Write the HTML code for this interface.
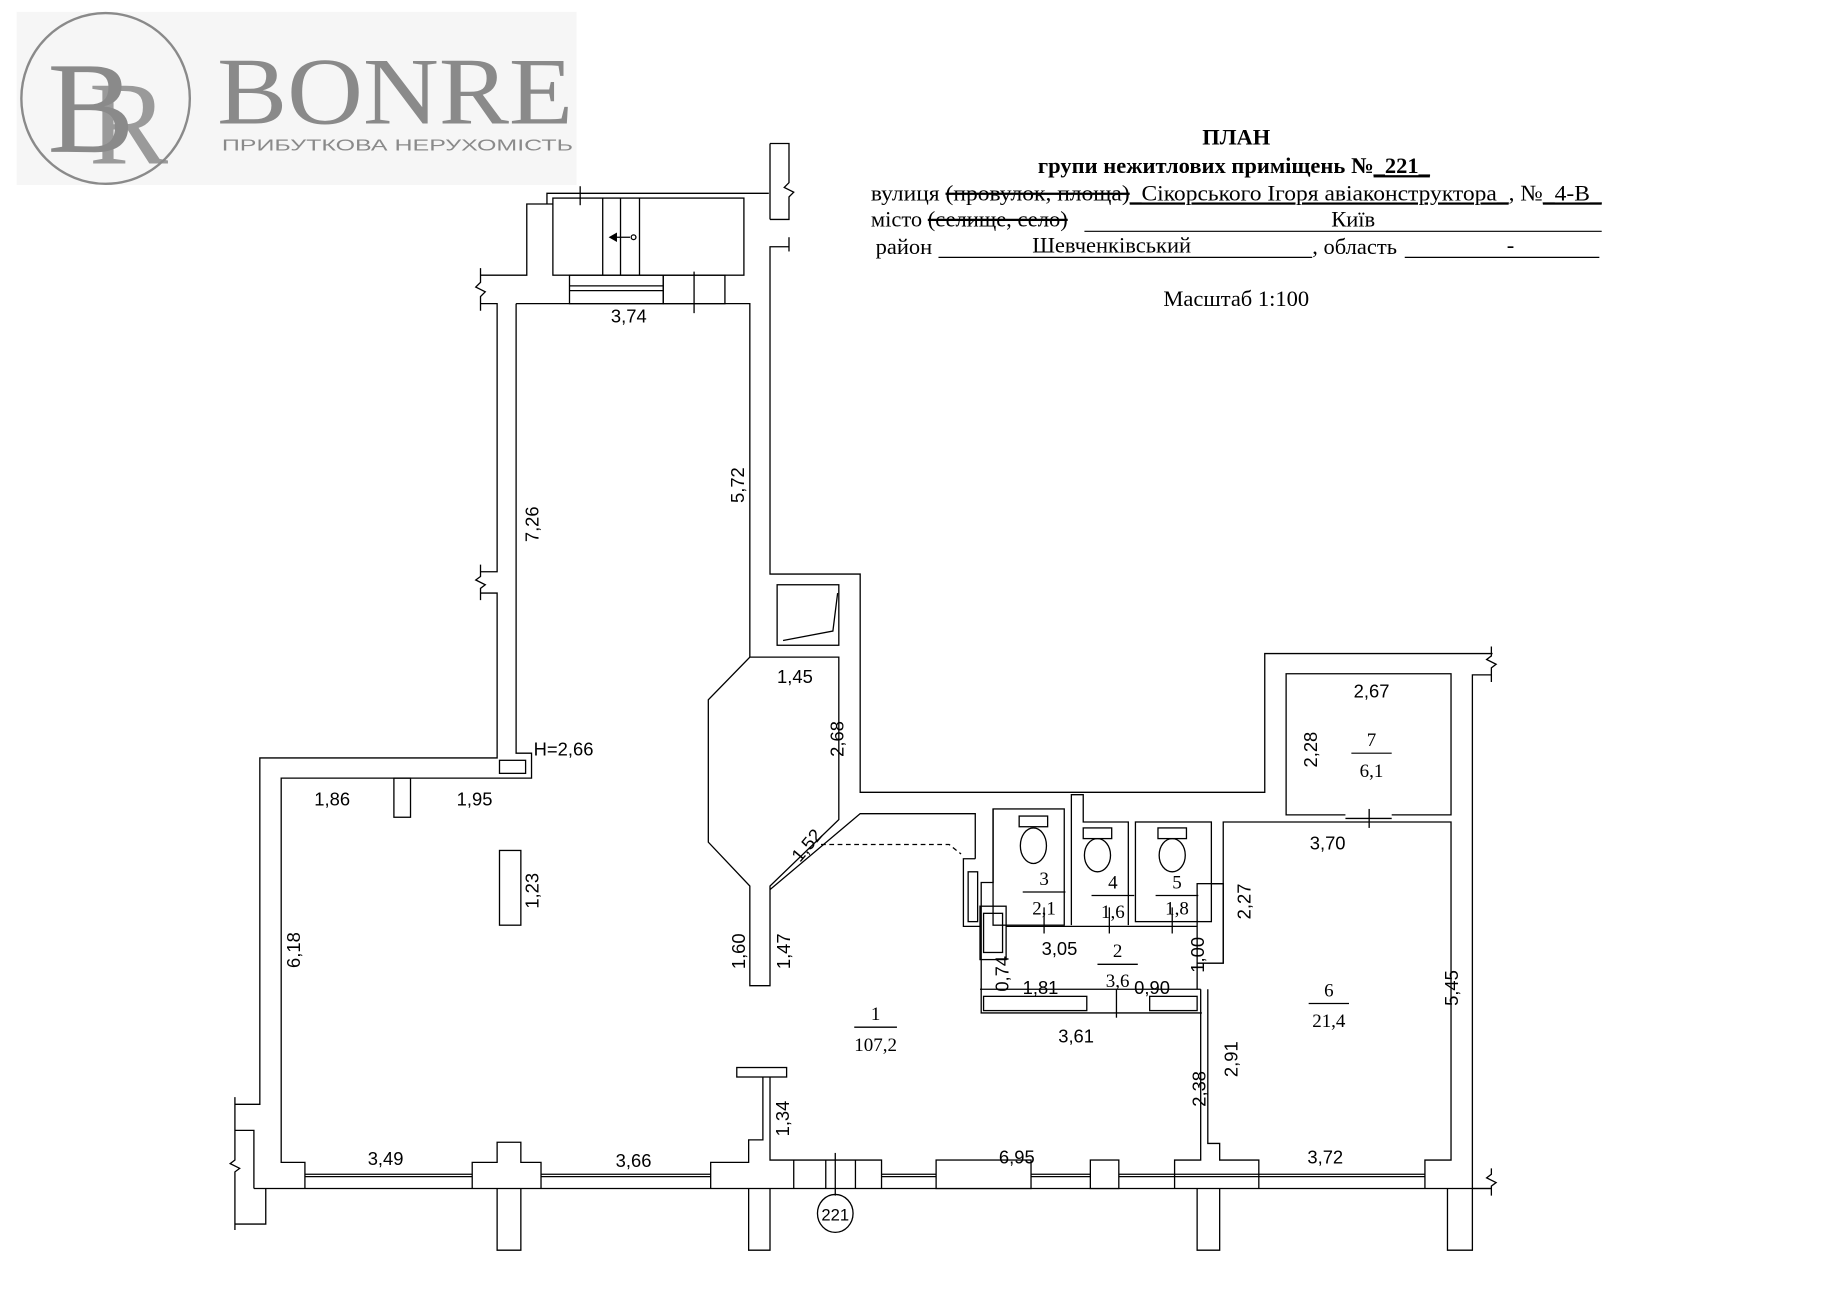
<!DOCTYPE html>
<html><head><meta charset="utf-8"><style>
html,body{margin:0;padding:0;background:#fff}
svg{display:block}
.w{fill:none;stroke:#000;stroke-width:1.1}
.d{font-family:"Liberation Sans",sans-serif;font-size:15.5px;fill:#000}
.s{font-family:"Liberation Serif",serif;font-size:16px;fill:#000}
.t{font-family:"Liberation Serif","Noto Serif CJK SC",serif;font-size:19px;fill:#000}
</style></head><body>
<svg width="1839" height="1300" viewBox="0 0 1550 1096" preserveAspectRatio="none" xmlns="http://www.w3.org/2000/svg">
<rect x="14" y="10" width="472" height="146" fill="#f6f6f6"/>
<ellipse cx="89" cy="83" rx="71" ry="72" fill="none" stroke="#8a8a8a" stroke-width="2"/>
<text x="40" y="128" font-family="Liberation Serif,serif" font-size="110" fill="#8a8a8a">B</text>
<text x="75" y="138" font-family="Liberation Serif,serif" font-size="100" fill="#8a8a8a" opacity="0.85">R</text>
<text x="183" y="104" font-family="Liberation Serif,serif" font-size="80" fill="#8a8a8a" textLength="300" lengthAdjust="spacingAndGlyphs">BONRE</text>
<text x="187" y="127" font-family="Liberation Sans,sans-serif" font-size="13" fill="#8a8a8a" textLength="296" lengthAdjust="spacingAndGlyphs">ПРИБУТКОВА НЕРУХОМІСТЬ</text>

<text x="1042" y="122" text-anchor="middle" class="t" font-weight="bold" font-size="20">ПЛАН</text>
<text x="1040" y="146" text-anchor="middle" class="t" font-weight="bold" font-size="20">групи нежитлових приміщень №<tspan text-decoration="underline">_221_</tspan></text>
<text x="734" y="169" class="t" textLength="616" lengthAdjust="spacingAndGlyphs">вулиця <tspan text-decoration="line-through">(провулок, площа)</tspan><tspan text-decoration="underline">_Сікорського Ігоря авіаконструктора_</tspan>, №<tspan text-decoration="underline">_4-В_</tspan></text>
<text x="734" y="191" class="t">місто <tspan text-decoration="line-through">(селище, село)</tspan></text>
<line x1="914" y1="195" x2="1350" y2="195" stroke="#000"/>
<text x="1122" y="191" class="t">Київ</text>
<text x="738" y="214" class="t">район</text>
<line x1="791" y1="217" x2="1106" y2="217" stroke="#000"/>
<text x="870" y="213" class="t">Шевченківський</text>
<text x="1106" y="214" class="t">, область</text>
<line x1="1184" y1="217" x2="1348" y2="217" stroke="#000"/>
<text x="1270" y="213" class="t">-</text>
<text x="1042" y="258" text-anchor="middle" class="t" font-size="18">Масштаб 1:100</text>

<g class="w">
<polyline points="405,232 444,232 444,172 466,172"/>
<polyline points="461,172 461,163 648,163"/>
<rect x="466" y="167" width="161" height="65"/>
<line x1="508" y1="167" x2="508" y2="232"/><line x1="523" y1="167" x2="523" y2="232"/><line x1="539" y1="167" x2="539" y2="232"/>
<line x1="489" y1="157" x2="489" y2="173"/>
<rect x="480" y="232" width="79" height="24"/><line x1="480" y1="241" x2="559" y2="241"/><line x1="480" y1="245" x2="559" y2="245"/>
<rect x="559" y="232" width="52" height="24"/><line x1="585" y1="229" x2="585" y2="264"/>
<polyline points="405,256 419,256 419,482 405,482"/>
<polyline points="405,500 419,500 419,639 219,639 219,931 198,931"/>
<polyline points="405,226 405,238 401,242 409,246 405,250 405,262"/>
<polyline points="405,476 405,486 401,489 409,493 405,496 405,506"/>
<polyline points="435,256 632,256 632,554"/>
<polyline points="435,256 435,635 448,635 448,656 237,656 237,980 257,980 257,1002"/>
<rect x="421" y="641" width="22" height="11"/>
<polyline points="649,121 665,121 665,154 661,158 669,162 665,166 665,185 649,185"/>
<line x1="649" y1="121" x2="649" y2="185"/>
<polyline points="665,208 649,208 649,484 725,484 725,668 1066,668 1066,551 1258,551"/>
<line x1="665" y1="200" x2="665" y2="212"/>
<rect x="655" y="493" width="52" height="51"/>
<polyline points="660,540 702,532 706,500"/>
<polygon points="632,554 707,554 707,691 649,747 649,831 632,831 632,747 597,710 597,590"/>
<polyline points="649,750 725,686 822,686 822,724"/>
<polyline points="692,712 800,712 810,720" stroke-dasharray="4,3"/>
<polyline points="198,925 198,978 194,981 202,985 198,988 198,1037"/>
<polyline points="198,953 214,953 214,1002"/>
<polyline points="198,1032 224,1032 224,1002"/>
<rect x="332" y="656" width="14" height="33"/>
<rect x="421" y="717" width="18" height="63"/>
<line x1="214" y1="1002" x2="1257" y2="1002"/>
<line x1="257" y1="990" x2="398" y2="990"/><line x1="257" y1="992" x2="398" y2="992"/>
<polyline points="398,1002 398,980 419,980 419,963 439,963 439,980 456,980 456,1002"/>
<polyline points="419,1002 419,1054 439,1054 439,1002"/>
<line x1="456" y1="990" x2="599" y2="990"/><line x1="456" y1="992" x2="599" y2="992"/>
<polyline points="599,1002 599,980 631,980 631,961 643,961 643,908"/>
<rect x="621" y="900" width="42" height="8"/>
<polyline points="649,908 649,978 743,978 743,1002"/>
<polyline points="631,1002 631,1054 649,1054 649,1002"/>
<line x1="669" y1="978" x2="669" y2="1002"/><line x1="696" y1="978" x2="696" y2="1002"/><line x1="721" y1="978" x2="721" y2="1002"/>
<line x1="704" y1="972" x2="704" y2="1008"/>
<ellipse cx="704" cy="1023" rx="15" ry="16"/>
<line x1="743" y1="990" x2="1061" y2="990"/><line x1="743" y1="992" x2="1061" y2="992"/>
<rect x="789" y="978" width="80" height="24" fill="#fff"/>
<rect x="919" y="978" width="24" height="24" fill="#fff"/>
<polyline points="990,1002 990,978 1012,978 1012,834"/>
<polyline points="1018,834 1018,964 1028,964 1028,978 1061,978 1061,1002"/>
<polyline points="1009,1002 1009,1054 1028,1054 1028,1002"/>
<line x1="1061" y1="990" x2="1201" y2="990"/><line x1="1061" y1="992" x2="1201" y2="992"/>
<polyline points="1201,1002 1201,978 1223,978 1223,693 1031,693 1031,745"/>
<polyline points="1220,1002 1220,1054 1241,1054 1241,569 1257,569"/>
<polyline points="1257,545 1257,553 1253,556 1261,560 1257,563 1257,575"/>
<line x1="1241" y1="1002" x2="1257" y2="1002"/>
<polyline points="1257,985 1257,990 1253,993 1261,997 1257,1000 1257,1008"/>
<polyline points="1134,687 1084,687 1084,568 1223,568 1223,687 1173,687"/>
<line x1="1134" y1="690" x2="1173" y2="690"/><line x1="1154" y1="682" x2="1154" y2="698"/>
<rect x="837" y="682" width="60" height="98"/>
<polyline points="903,780 903,670 913,670 913,693 951,693 951,780"/>
<rect x="957" y="693" width="64" height="84"/>
<polyline points="1021,745 1031,745 1031,812 1009,812 1009,834"/>
<rect x="1009" y="745" width="22" height="67"/>
<polyline points="837,682 837,744 827,744 827,854 1013,854"/>
<polyline points="822,724 812,724 812,781 826,781"/>
<rect x="816" y="735" width="8" height="42"/>
<rect x="826" y="764" width="22" height="45"/>
<rect x="829" y="770" width="16" height="33"/>
<line x1="848" y1="781" x2="1009" y2="781"/>
<line x1="826" y1="834" x2="1012" y2="834"/>
<rect x="829" y="840" width="87" height="12"/>
<rect x="969" y="840" width="40" height="12"/>
<line x1="941" y1="834" x2="941" y2="858"/>
<line x1="880" y1="765" x2="880" y2="787"/><line x1="935" y1="765" x2="935" y2="787"/><line x1="988" y1="765" x2="988" y2="787"/>
<rect x="859" y="688" width="24" height="9"/><ellipse cx="871" cy="713" rx="11" ry="15"/>
<rect x="913" y="698" width="24" height="9"/><ellipse cx="925" cy="721" rx="11" ry="14"/>
<rect x="976" y="698" width="24" height="9"/><ellipse cx="988" cy="721" rx="11" ry="14"/>
<line x1="514" y1="200" x2="531" y2="200"/><circle cx="534" cy="200" r="2"/>
<line x1="1139" y1="635" x2="1173" y2="635" stroke-width="1"/>
<line x1="720" y1="866" x2="756" y2="866"/>
<line x1="862" y1="752" x2="898" y2="752"/><line x1="920" y1="755" x2="956" y2="755"/><line x1="974" y1="755" x2="1010" y2="755"/>
<line x1="925" y1="813" x2="959" y2="813"/><line x1="1103" y1="846" x2="1137" y2="846"/>
</g>
<polygon points="513,200 520,196 520,204" fill="#000"/>

<g class="d">
<text x="530" y="272" text-anchor="middle">3,74</text>
<text x="670" y="576" text-anchor="middle">1,45</text>
<text x="475" y="637" text-anchor="middle">H=2,66</text>
<text x="280" y="679" text-anchor="middle">1,86</text>
<text x="400" y="679" text-anchor="middle">1,95</text>
<text x="325" y="982" text-anchor="middle">3,49</text>
<text x="534" y="984" text-anchor="middle">3,66</text>
<text x="857" y="981" text-anchor="middle">6,95</text>
<text x="1117" y="981" text-anchor="middle">3,72</text>
<text x="1156" y="588" text-anchor="middle">2,67</text>
<text x="1119" y="716" text-anchor="middle">3,70</text>
<text x="893" y="805" text-anchor="middle">3,05</text>
<text x="877" y="838" text-anchor="middle">1,81</text>
<text x="971" y="838" text-anchor="middle">0,90</text>
<text x="907" y="879" text-anchor="middle">3,61</text>
<text transform="translate(627,409) rotate(-90)" text-anchor="middle">5,72</text>
<text transform="translate(454,442) rotate(-90)" text-anchor="middle">7,26</text>
<text transform="translate(711,623) rotate(-90)" text-anchor="middle">2,68</text>
<text transform="translate(454,751) rotate(-90)" text-anchor="middle">1,23</text>
<text transform="translate(253,801) rotate(-90)" text-anchor="middle">6,18</text>
<text transform="translate(684,716) rotate(-50)" text-anchor="middle">1,52</text>
<text transform="translate(628,802) rotate(-90)" text-anchor="middle">1,60</text>
<text transform="translate(666,802) rotate(-90)" text-anchor="middle">1,47</text>
<text transform="translate(665,943) rotate(-90)" text-anchor="middle">1,34</text>
<text transform="translate(1110,632) rotate(-90)" text-anchor="middle">2,28</text>
<text transform="translate(1054,760) rotate(-90)" text-anchor="middle">2,27</text>
<text transform="translate(850,821) rotate(-90)" text-anchor="middle">0,74</text>
<text transform="translate(1015,805) rotate(-90)" text-anchor="middle">1,00</text>
<text transform="translate(1229,833) rotate(-90)" text-anchor="middle">5,45</text>
<text transform="translate(1043,893) rotate(-90)" text-anchor="middle">2,91</text>
<text transform="translate(1016,918) rotate(-90)" text-anchor="middle">2,38</text>
<text x="704" y="1029" text-anchor="middle" font-size="14">221</text>
</g>
<g class="s" text-anchor="middle">
<text x="738" y="860">1</text><text x="738" y="886">107,2</text>
<text x="1156" y="629">7</text><text x="1156" y="655">6,1</text>
<text x="880" y="746">3</text><text x="880" y="771">2,1</text>
<text x="938" y="749">4</text><text x="938" y="774">1,6</text>
<text x="992" y="749">5</text><text x="992" y="771">1,8</text>
<text x="942" y="807">2</text><text x="942" y="832">3,6</text>
<text x="1120" y="840">6</text><text x="1120" y="866">21,4</text>
</g>
</svg>
</body></html>
